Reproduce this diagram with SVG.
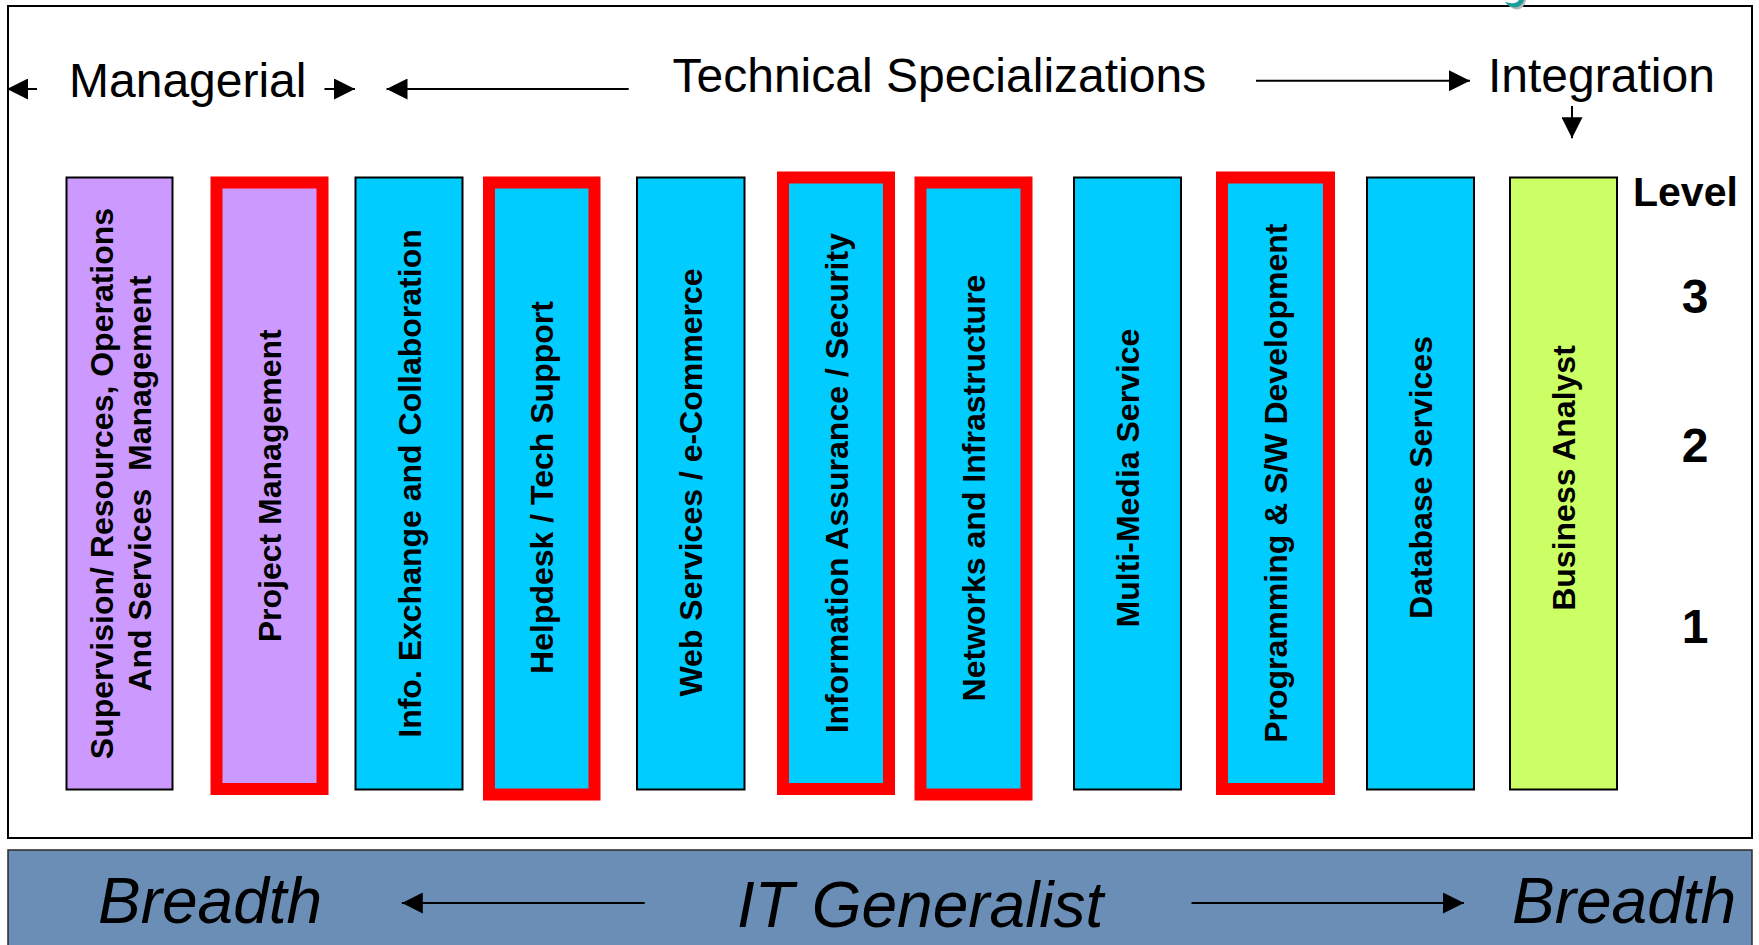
<svg xmlns="http://www.w3.org/2000/svg" width="1759" height="945" viewBox="0 0 1759 945">
  <style>
    .frame { fill: #ffffff; stroke: #000000; stroke-width: 2; }
    .band { fill: #6A8EB6; stroke: #2a2a2a; stroke-width: 1.5; }
    .col { stroke: #000000; stroke-width: 2; }
    .hi { stroke: #FF0000; stroke-width: 12; }
    .mgr { fill: #CC99FF; }
    .tech { fill: #00CCFF; }
    .integ { fill: #CCFF66; }
    .lbl { font-family: "Liberation Sans", Arial, sans-serif; font-weight: bold; font-size: 32px; fill: #000000; text-anchor: middle; }
    .head { font-family: "Liberation Sans", Arial, sans-serif; font-size: 48px; fill: #000000; }
    .lvl { font-family: "Liberation Sans", Arial, sans-serif; font-weight: bold; fill: #000000; }
    .gen { font-family: "Liberation Sans", Arial, sans-serif; font-style: italic; font-size: 64px; fill: #000000; }
    .arr { stroke: #000000; stroke-width: 2; fill: none; marker-end: url(#ah); }
  </style>
  <defs>
    <marker id="ah" markerUnits="userSpaceOnUse" markerWidth="21" markerHeight="21" viewBox="0 0 20 20" refX="20" refY="10" orient="auto">
      <path d="M0,0 L20,10 L0,20 Z" fill="#000000"/>
    </marker>
  </defs>

  <!-- main panel -->
  <rect class="frame" x="8" y="6" width="1744" height="832"/>

  <!-- small teal mark on the top edge -->
  <path d="M1507,3 Q1512,11 1520,9 Q1525,6 1526,0 L1521,0 Q1518,5 1512,4 Z" fill="#b8b8b8"/>
  <path d="M1505,2 Q1510,9 1518,7 Q1523,4 1524,0 L1519,0 Q1516,4 1510,3 Z" fill="#1A9E9B"/>

  <!-- header labels -->
  <text class="head" x="69" y="96.7" font-size="47">Managerial</text>
  <text class="head" x="672.5" y="92.3" font-size="48.5">Technical Specializations</text>
  <text class="head" x="1488" y="92.3">Integration</text>

  <!-- career-path columns -->
  <g id="supervision">
    <rect class="col mgr" x="66.5" y="177.5" width="106" height="612"/>
    <text class="lbl" transform="translate(112.5,483.5) rotate(-90)">Supervision/ Resources, Operations</text>
    <text class="lbl" xml:space="preserve" transform="translate(150.8,483.5) rotate(-90)">And Services  Management</text>
  </g>
  <g id="project-management">
    <rect class="hi mgr" x="216.5" y="182.5" width="106" height="606.5"/>
    <text class="lbl" transform="translate(281,485.8) rotate(-90)">Project Management</text>
  </g>
  <g id="info-exchange">
    <rect class="col tech" x="355.5" y="177.5" width="107" height="612"/>
    <text class="lbl" transform="translate(420.5,483.5) rotate(-90)">Info. Exchange and Collaboration</text>
  </g>
  <g id="helpdesk">
    <rect class="hi tech" x="489" y="182.5" width="105.5" height="612"/>
    <text class="lbl" transform="translate(553.2,487.5) rotate(-90)">Helpdesk / Tech Support</text>
  </g>
  <g id="web-services">
    <rect class="col tech" x="637" y="177.5" width="107.5" height="612"/>
    <text class="lbl" transform="translate(702.2,482.5) rotate(-90)">Web Services / e-Commerce</text>
  </g>
  <g id="information-assurance">
    <rect class="hi tech" x="783" y="177.5" width="106" height="611.5"/>
    <text class="lbl" transform="translate(847.5,483.2) rotate(-90)">Information Assurance / Security</text>
  </g>
  <g id="networks">
    <rect class="hi tech" x="920.5" y="182.5" width="106" height="612"/>
    <text class="lbl" transform="translate(985,488) rotate(-90)">Networks and Infrastructure</text>
  </g>
  <g id="multi-media">
    <rect class="col tech" x="1074" y="177.5" width="107" height="612"/>
    <text class="lbl" transform="translate(1139,478) rotate(-90)">Multi-Media Service</text>
  </g>
  <g id="programming">
    <rect class="hi tech" x="1222" y="177.5" width="107" height="611.5"/>
    <text class="lbl" transform="translate(1287,483.2) rotate(-90)">Programming &amp; S/W Development</text>
  </g>
  <g id="database">
    <rect class="col tech" x="1367" y="177.5" width="107" height="612"/>
    <text class="lbl" transform="translate(1432,477.5) rotate(-90)">Database Services</text>
  </g>
  <g id="business-analyst">
    <rect class="col integ" x="1510" y="177.5" width="107" height="612"/>
    <text class="lbl" transform="translate(1575,478) rotate(-90)">Business Analyst</text>
  </g>

  <!-- level scale -->
  <g id="levels">
    <text class="lvl" x="1633" y="205.6" font-size="41">Level</text>
    <text class="lvl" x="1695" y="312.6" font-size="48" text-anchor="middle">3</text>
    <text class="lvl" x="1695" y="462" font-size="48" text-anchor="middle">2</text>
    <text class="lvl" x="1695" y="643" font-size="48" text-anchor="middle">1</text>
  </g>

  <!-- bottom band -->
  <rect class="band" x="8" y="850" width="1744" height="100"/>
  <text class="gen" x="98" y="922.7">Breadth</text>
  <text class="gen" x="737" y="926.7">IT Generalist</text>
  <text class="gen" x="1512" y="922.7">Breadth</text>

  <!-- connectors -->
  <g id="connectors">
    <line class="arr" x1="37" y1="89" x2="7" y2="89"/>
    <line class="arr" x1="324.5" y1="89" x2="355" y2="89"/>
    <line class="arr" x1="628.7" y1="89" x2="386.5" y2="89"/>
    <line class="arr" x1="1256" y1="80.7" x2="1470" y2="80.7"/>
    <line class="arr" x1="1572" y1="106" x2="1572" y2="138.3"/>
    <line class="arr" x1="644.7" y1="903" x2="401.8" y2="903"/>
    <line class="arr" x1="1191.5" y1="903" x2="1464" y2="903"/>
  </g>
</svg>
